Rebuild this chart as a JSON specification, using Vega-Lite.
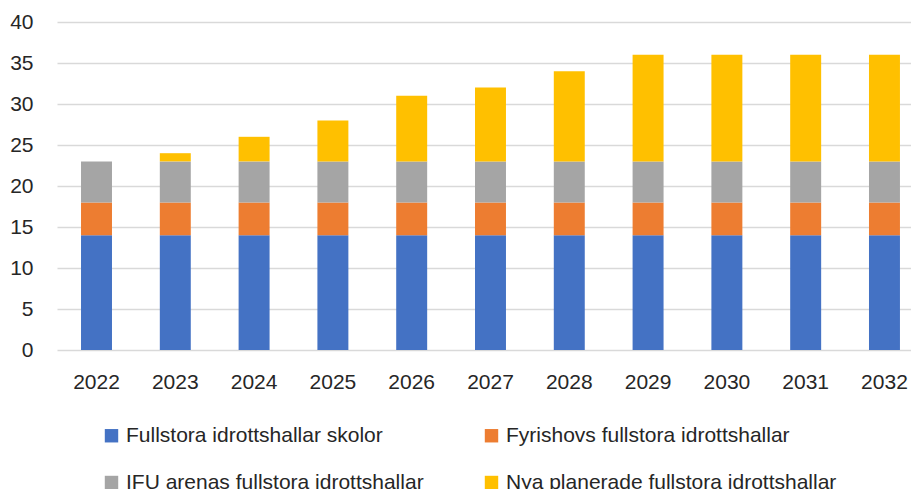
{
  "$schema": "https://vega.github.io/schema/vega-lite/v6.json",
  "width": 854,
  "height": 328,
  "autosize": {"type": "none"},
  "padding": {"left": 57, "top": 22, "right": 0, "bottom": 139},
  "background": "white",
  "config": {"view": {"stroke": null}, "font": "Liberation Sans"},
  "data": {"values": [
    {"year": "2022", "serie": "Fullstora idrottshallar skolor", "k": 1, "v": 14},
    {"year": "2023", "serie": "Fullstora idrottshallar skolor", "k": 1, "v": 14},
    {"year": "2024", "serie": "Fullstora idrottshallar skolor", "k": 1, "v": 14},
    {"year": "2025", "serie": "Fullstora idrottshallar skolor", "k": 1, "v": 14},
    {"year": "2026", "serie": "Fullstora idrottshallar skolor", "k": 1, "v": 14},
    {"year": "2027", "serie": "Fullstora idrottshallar skolor", "k": 1, "v": 14},
    {"year": "2028", "serie": "Fullstora idrottshallar skolor", "k": 1, "v": 14},
    {"year": "2029", "serie": "Fullstora idrottshallar skolor", "k": 1, "v": 14},
    {"year": "2030", "serie": "Fullstora idrottshallar skolor", "k": 1, "v": 14},
    {"year": "2031", "serie": "Fullstora idrottshallar skolor", "k": 1, "v": 14},
    {"year": "2032", "serie": "Fullstora idrottshallar skolor", "k": 1, "v": 14},
    {"year": "2022", "serie": "Fyrishovs fullstora idrottshallar", "k": 2, "v": 4},
    {"year": "2023", "serie": "Fyrishovs fullstora idrottshallar", "k": 2, "v": 4},
    {"year": "2024", "serie": "Fyrishovs fullstora idrottshallar", "k": 2, "v": 4},
    {"year": "2025", "serie": "Fyrishovs fullstora idrottshallar", "k": 2, "v": 4},
    {"year": "2026", "serie": "Fyrishovs fullstora idrottshallar", "k": 2, "v": 4},
    {"year": "2027", "serie": "Fyrishovs fullstora idrottshallar", "k": 2, "v": 4},
    {"year": "2028", "serie": "Fyrishovs fullstora idrottshallar", "k": 2, "v": 4},
    {"year": "2029", "serie": "Fyrishovs fullstora idrottshallar", "k": 2, "v": 4},
    {"year": "2030", "serie": "Fyrishovs fullstora idrottshallar", "k": 2, "v": 4},
    {"year": "2031", "serie": "Fyrishovs fullstora idrottshallar", "k": 2, "v": 4},
    {"year": "2032", "serie": "Fyrishovs fullstora idrottshallar", "k": 2, "v": 4},
    {"year": "2022", "serie": "IFU arenas fullstora idrottshallar", "k": 3, "v": 5},
    {"year": "2023", "serie": "IFU arenas fullstora idrottshallar", "k": 3, "v": 5},
    {"year": "2024", "serie": "IFU arenas fullstora idrottshallar", "k": 3, "v": 5},
    {"year": "2025", "serie": "IFU arenas fullstora idrottshallar", "k": 3, "v": 5},
    {"year": "2026", "serie": "IFU arenas fullstora idrottshallar", "k": 3, "v": 5},
    {"year": "2027", "serie": "IFU arenas fullstora idrottshallar", "k": 3, "v": 5},
    {"year": "2028", "serie": "IFU arenas fullstora idrottshallar", "k": 3, "v": 5},
    {"year": "2029", "serie": "IFU arenas fullstora idrottshallar", "k": 3, "v": 5},
    {"year": "2030", "serie": "IFU arenas fullstora idrottshallar", "k": 3, "v": 5},
    {"year": "2031", "serie": "IFU arenas fullstora idrottshallar", "k": 3, "v": 5},
    {"year": "2032", "serie": "IFU arenas fullstora idrottshallar", "k": 3, "v": 5},
    {"year": "2022", "serie": "Nya planerade fullstora idrottshallar", "k": 4, "v": 0},
    {"year": "2023", "serie": "Nya planerade fullstora idrottshallar", "k": 4, "v": 1},
    {"year": "2024", "serie": "Nya planerade fullstora idrottshallar", "k": 4, "v": 3},
    {"year": "2025", "serie": "Nya planerade fullstora idrottshallar", "k": 4, "v": 5},
    {"year": "2026", "serie": "Nya planerade fullstora idrottshallar", "k": 4, "v": 8},
    {"year": "2027", "serie": "Nya planerade fullstora idrottshallar", "k": 4, "v": 9},
    {"year": "2028", "serie": "Nya planerade fullstora idrottshallar", "k": 4, "v": 11},
    {"year": "2029", "serie": "Nya planerade fullstora idrottshallar", "k": 4, "v": 13},
    {"year": "2030", "serie": "Nya planerade fullstora idrottshallar", "k": 4, "v": 13},
    {"year": "2031", "serie": "Nya planerade fullstora idrottshallar", "k": 4, "v": 13},
    {"year": "2032", "serie": "Nya planerade fullstora idrottshallar", "k": 4, "v": 13}
  ]},
  "mark": {"type": "bar"},
  "encoding": {
    "x": {
      "field": "year", "type": "ordinal", "title": null,
      "scale": {"paddingInner": 0.607, "paddingOuter": 0.2225, "align": 0.685},
      "axis": {"labelAngle": 0, "labelFontSize": 21, "labelColor": "#262626", "labelPadding": 21, "ticks": false, "domain": false, "grid": false}
    },
    "y": {
      "field": "v", "type": "quantitative", "stack": "zero", "title": null,
      "scale": {"domain": [0, 40]},
      "axis": {"values": [0, 5, 10, 15, 20, 25, 30, 35, 40], "labelFontSize": 21, "labelColor": "#262626", "labelPadding": 24, "ticks": false, "domain": false, "gridColor": "#d9d9d9", "gridWidth": 1.3}
    },
    "color": {
      "field": "serie", "type": "nominal", "title": null,
      "scale": {
        "domain": ["Fullstora idrottshallar skolor", "Fyrishovs fullstora idrottshallar", "IFU arenas fullstora idrottshallar", "Nya planerade fullstora idrottshallar"],
        "range": ["#4472C4", "#ED7D31", "#A5A5A5", "#FFC000"]
      },
      "legend": {
        "orient": "none", "legendX": 44, "legendY": 403, "direction": "horizontal", "columns": 2, "columnPadding": 57, "rowPadding": 25,
        "symbolType": "square", "symbolSize": 180, "symbolStrokeWidth": 0,
        "labelFontSize": 21, "labelColor": "#262626", "labelOffset": 4, "labelLimit": 500
      }
    },
    "order": {"field": "k", "type": "quantitative", "sort": "ascending"}
  }
}
